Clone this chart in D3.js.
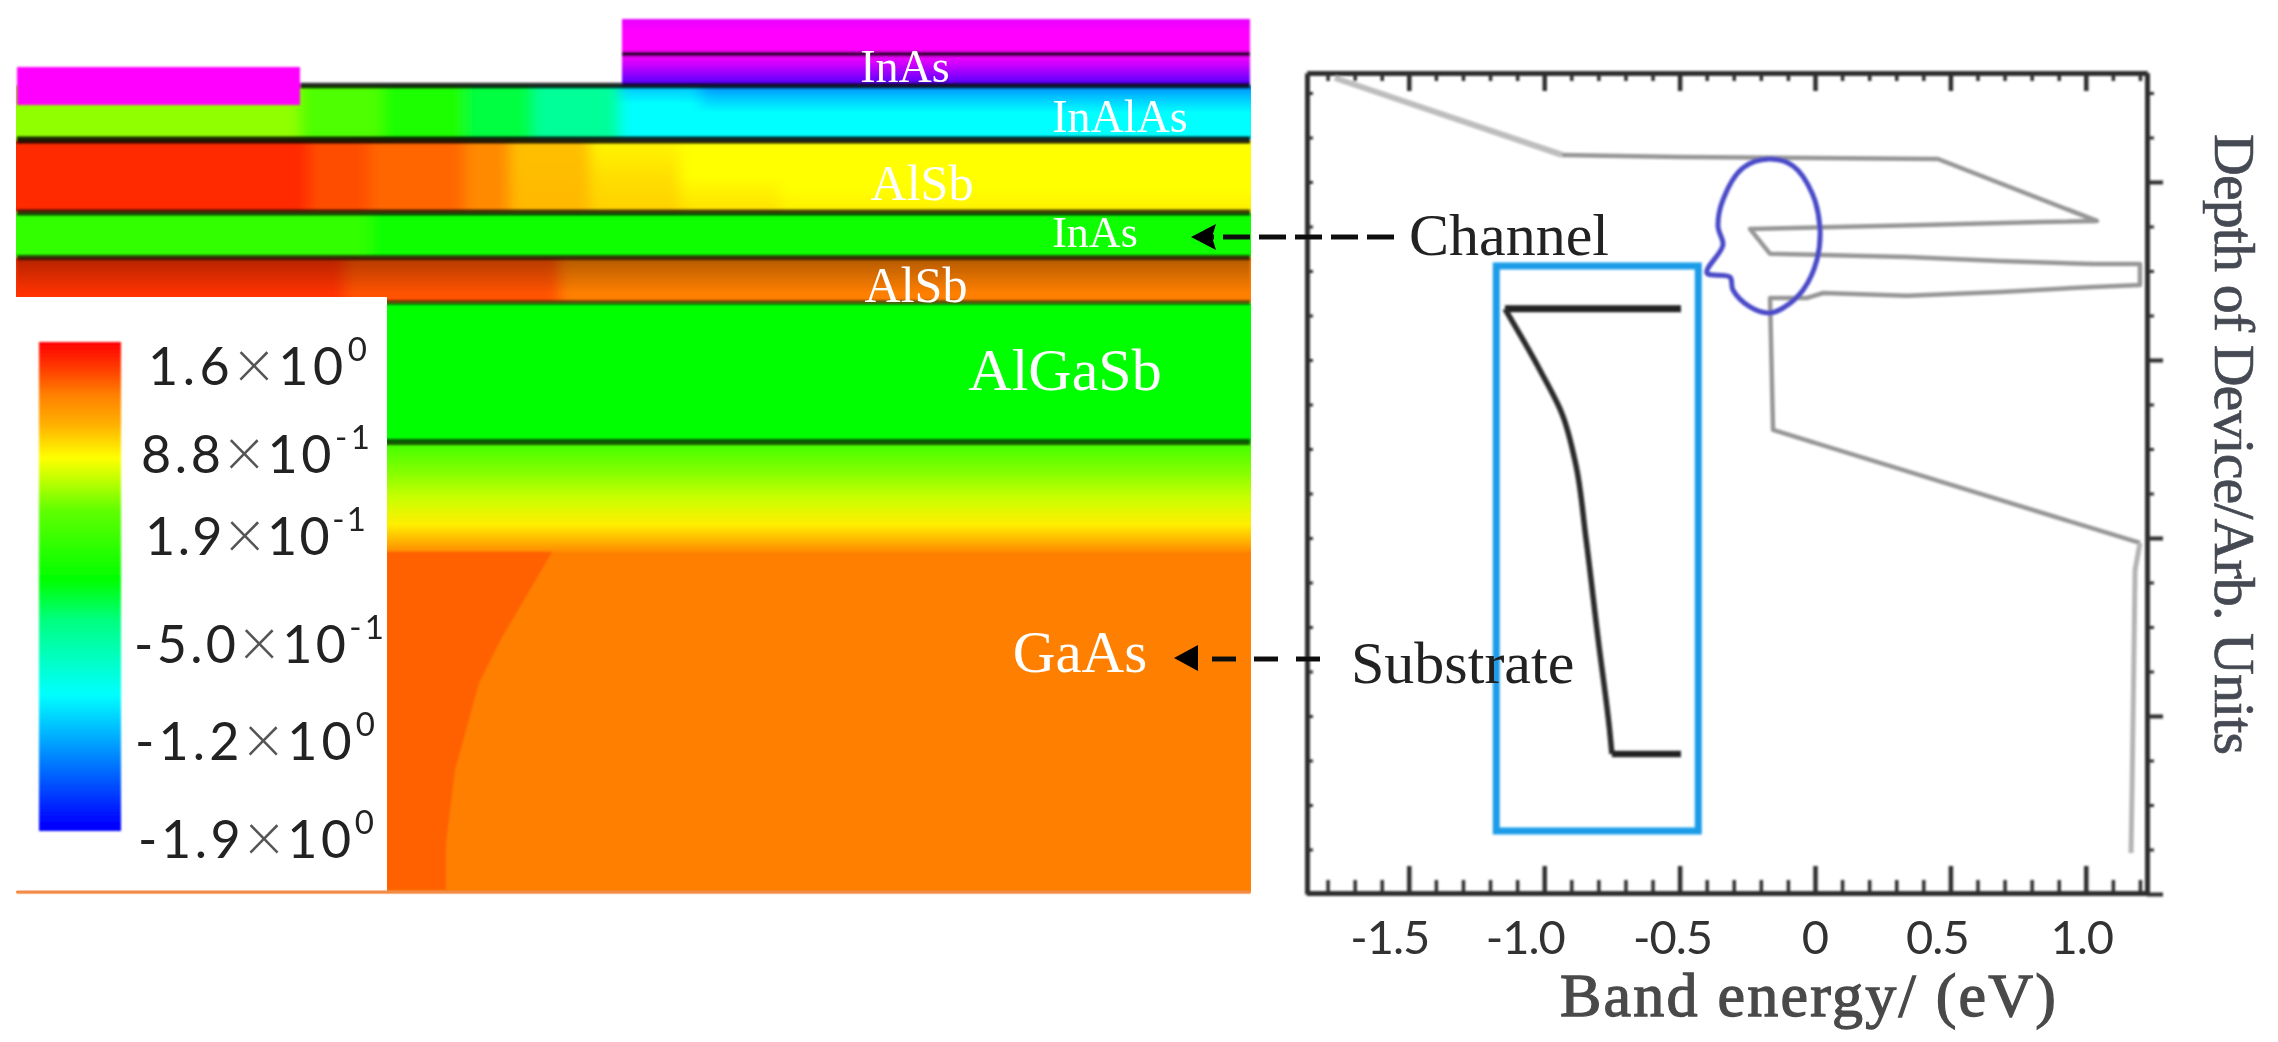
<!DOCTYPE html>
<html><head><meta charset="utf-8">
<script src="https://cdnjs.cloudflare.com/ajax/libs/d3/7.8.5/d3.min.js"></script>
<style>html,body{margin:0;padding:0;background:#fff}svg{display:block}</style>
</head><body><svg id="c" width="2278" height="1042"></svg>
<script>
// ---------- potential colour levels (legend) ----------
const levelColors = ["#ff0000","#ff4000","#ff8000","#ffb000","#ffff00","#c0ff00","#60ff00","#00ff00","#00ff80","#00ffff","#0080ff","#0000ff","#ff00ff"];
const legendLevels = [0,1,2,3,4,5,6,7,8,9,10,11];
const legendFractions = [0,0.057,0.108,0.169,0.237,0.282,0.344,0.487,0.569,0.722,0.855,0.988];
const legendCoeff = ["1.6","8.8","1.9","-5.0","-1.2","-1.9"];
const legendExp = ["0","-1","-1","-1","0","0"];

// ---------- device layers: depth bounds, lateral edges, potential levels ----------
const layerNames = ["Contact","InAs cap","InAlAs","AlSb barrier","InAs channel","AlSb spacer","AlGaSb","Buffer","GaAs"];
const layerTop    = [0,35,66.5,121,193.5,238.5,283.5,423,533];
const layerBottom = [35,66.5,121,193.5,238.5,283.5,423,533,874];
const layerEdges = [
  [605,1233],
  [605,1233],
  [0,283,365,449,516,603,683,1233],
  [0,293,353,448,493,573,663,763,1233],
  [0,353,1233],
  [0,328,543,1233],
  [0,1233],
  [0,1233],
  [0,1233]
];
const layerLevels = [
  [[11.9,12,12,12]],
  [[12,11.8,11.55,11.3]],
  [[5.5],[6.2],[6.7],[7.5],[8.2],[9.5,9,9,9],[9.9,9.4,9,9,9]],
  [[0.66],[1.2],[1.6],[2.2],[3.2,3.1],[3.9,3.6,3.4],[4,4,3.6],[4,4,4,3.8]],
  [[6.5],[6.9]],
  [[0.8],[1.3],[2]],
  [[7]],
  [[6.33,5.7,4.9,3.8,2.2]],
  [[2]]
];
const contactLeft = {lateral:[0,283], depth:[48,86], level:12};
const shadedLayer = 5;
const interfaceDepth = [35,66.5,121,193.5,238.5,283.5,423];
const interfaceStart = [605,283,0,0,0,0,0];
const interfaceOpacity = [0.8,0.82,0.85,0.72,0.68,0.58,0.65];
const interfaceWidth = [4.5,5.5,7,6,5,4.5,6];
const gaasCoreLateral = [0,535,484,462,438,429,429,0];
const gaasCoreDepth   = [533,533,620,664,751,824,871,871];
const layerLabels = ["InAs","InAlAs","AlSb","InAs","AlSb","AlGaSb","GaAs"];

// ---------- band diagram ----------
const xMajor = [-1.5,-1,-0.5,0,0.5,1];
const xLabels = ["-1.5","-1.0","-0.5","0","0.5","1.0"];
const xMinor = [-1.8,-1.7,-1.6,-1.4,-1.3,-1.2,-1.1,-0.9,-0.8,-0.7,-0.6,-0.4,-0.3,-0.2,-0.1,0.1,0.2,0.3,0.4,0.6,0.7,0.8,0.9,1.1,1.2];
const depthMajor = [1,2,3,4,5];
const depthMinor = [0.5,0.75,1.25,1.5,1.75,2.25,2.5,2.75,3.25,3.5,3.75,4.25,4.5,4.75];
const bandEnergy = [-1.773,-0.934,-0.499,0.454,1.041,0.831,0.399,-0.240,-0.166,0.340,0.683,1.027,1.200,1.200,1.027,0.683,0.340,0.030,-0.030,-0.166,-0.155,1.200,1.182,1.171,1.167];
const bandDepth  = [0.416,0.848,0.860,0.871,1.219,1.225,1.242,1.264,1.404,1.421,1.444,1.461,1.461,1.579,1.590,1.618,1.640,1.624,1.652,1.652,2.393,3.028,3.180,4.399,4.770];
const insetEnergy = [-0.495,-1.145,-1.016,-0.934,-0.883,-0.846,-0.801,-0.757,-0.750,-0.495];
const insetDepth  = [1.713,1.713,2.056,2.303,2.590,3.000,3.567,4.101,4.213,4.213];
const boxEnergy = [-1.177,-0.431];
const boxDepth  = [1.472,4.646];
const calloutEnergy = [-0.170,-0.081,-0.011,0.018,0.007,-0.044,-0.118,-0.170,-0.240,-0.303,-0.314,-0.399,-0.340,-0.358,-0.340,-0.266];
const calloutDepth  = [0.871,0.910,1.062,1.253,1.438,1.607,1.708,1.736,1.702,1.607,1.534,1.511,1.354,1.253,1.101,0.921];

// ---------- scales ----------
const svg = d3.select("#c");
const defs = svg.append("defs");
const color = d3.scaleLinear().domain(d3.range(levelColors.length)).range(levelColors);
const lat = d3.scaleLinear().domain([0,1233]).range([17,1250]);
const dep = d3.scaleLinear().domain([0,874]).range([19,893]);
const X = d3.scaleLinear().domain([-1.876,1.226]).range([1307,2147]);
const Y = d3.scaleLinear().domain([0.388,5]).range([73,894]);

function blur(id,dev){
  defs.append("filter").attr("id",id).attr("x","-3%").attr("y","-3%").attr("width","106%").attr("height","106%")
    .append("feGaussianBlur").attr("stdDeviation",dev);
}
blur("soft","1.3"); blur("cols","7 1.2"); blur("soft2","0.8"); blur("txt","0.6");
defs.append("clipPath").attr("id","panelClip").append("rect").attr("x",16).attr("y",0).attr("width",1235).attr("height",900);

// ---------- heat map ----------
const heatClip = svg.append("g").attr("clip-path","url(#panelClip)");
const heat = heatClip.append("g").attr("filter","url(#cols)");
const heatTop = svg.append("g").attr("filter","url(#soft)");
let gid = 0;
function fillFor(levels){
  if(levels.length===1) return color(levels[0]);
  const id="g"+(gid++);
  const g=defs.append("linearGradient").attr("id",id).attr("x1",0).attr("x2",0).attr("y1",0).attr("y2",1);
  levels.forEach((l,i)=>g.append("stop").attr("offset",i/(levels.length-1)).attr("stop-color",color(l)));
  return "url(#"+id+")";
}
layerNames.forEach((n,i)=>{
  const e=layerEdges[i];
  const target = i<2 ? heatTop : heat;
  layerLevels[i].forEach((lv,j)=>{
    // first/last columns run past the panel edge so the lateral blur stays inside the clip
    const x0 = i<2 ? lat(e[j]) : (j===0 ? lat(e[j])-30 : lat(e[j]));
    const x1 = i<2 ? lat(e[j+1]) : (j===layerLevels[i].length-1 ? lat(e[j+1])+30 : lat(e[j+1]));
    target.append("rect").attr("x",x0).attr("y",dep(layerTop[i]))
      .attr("width",x1-x0).attr("height",dep(layerBottom[i])-dep(layerTop[i]))
      .attr("fill",fillFor(lv));
  });
});
const shade=defs.append("linearGradient").attr("id","shade").attr("x1",0).attr("x2",0).attr("y1",0).attr("y2",1);
shade.append("stop").attr("offset",0).attr("stop-color","#000").attr("stop-opacity",0.3);
shade.append("stop").attr("offset",0.8).attr("stop-color","#000").attr("stop-opacity",0);
heatTop.append("rect").attr("x",lat(0)).attr("width",lat(1233)-lat(0)).attr("y",dep(layerTop[shadedLayer])).attr("height",dep(layerBottom[shadedLayer])-dep(layerTop[shadedLayer])).attr("fill","url(#shade)");
heatTop.append("path").attr("fill",color(1.5))
  .attr("d",d3.line().x((d,i)=>lat(gaasCoreLateral[i])).y((d,i)=>dep(gaasCoreDepth[i]))(gaasCoreLateral)+"Z");
heatTop.append("rect").attr("x",lat(contactLeft.lateral[0])).attr("y",dep(contactLeft.depth[0]))
  .attr("width",lat(contactLeft.lateral[1])-lat(contactLeft.lateral[0])).attr("height",dep(contactLeft.depth[1])-dep(contactLeft.depth[0]))
  .attr("fill",color(contactLeft.level));
interfaceDepth.forEach((d,i)=>{
  heatTop.append("line").attr("x1",lat(interfaceStart[i])).attr("x2",lat(1233)).attr("y1",dep(d)).attr("y2",dep(d))
    .attr("stroke","#000").attr("stroke-opacity",interfaceOpacity[i]).attr("stroke-width",interfaceWidth[i]);
});

// ---------- legend ----------
svg.append("rect").attr("x",14).attr("y",297).attr("width",373).attr("height",594).attr("fill","#fff");
svg.append("line").attr("x1",17).attr("x2",1250).attr("y1",892).attr("y2",892).attr("stroke","#f28a4a").attr("stroke-width",3);
const lg=defs.append("linearGradient").attr("id","legend").attr("x1",0).attr("x2",0).attr("y1",0).attr("y2",1);
legendLevels.forEach((l,i)=>lg.append("stop").attr("offset",legendFractions[i]).attr("stop-color",color(l)));
svg.append("rect").attr("x",39).attr("y",342).attr("width",82).attr("height",489).attr("fill","url(#legend)").attr("filter","url(#soft2)");
const legX=[148,141,145,134,135,138], legY=[385,473,555,663,760,858], legW=[219,229,221,250,240,236];
const legendText=svg.append("g").attr("filter","url(#txt)");
legendCoeff.forEach((c,i)=>{
  const t=legendText.append("text").attr("x",legX[i]).attr("y",legY[i]).attr("font-family","Lato, 'Open Sans', sans-serif").attr("font-size",52).attr("fill","#222").attr("textLength",legW[i]).attr("lengthAdjust","spacing");
  t.append("tspan").text(c);
  t.append("tspan").attr("font-size",68).attr("font-weight",300).attr("fill","#555").attr("dy",4).text("×");
  t.append("tspan").attr("dy",-4).text("10");
  t.append("tspan").attr("font-size",33).attr("dy",-24).text(legendExp[i]);
});

// ---------- layer labels ----------
const labX=[905,1120,922,1095,916,1065,1080], labY=[82,132,200,247,302,390,672], labS=[46,46,50,44,50,60,59];
const labelG=svg.append("g").attr("filter","url(#txt)");
layerLabels.forEach((s,i)=>{
  labelG.append("text").attr("x",labX[i]).attr("y",labY[i]).attr("text-anchor","middle").attr("font-family","'Liberation Serif', serif")
    .attr("font-size",labS[i]).attr("fill","#fff").text(s);
});

// ---------- band panel ----------
const panel=svg.append("g").attr("filter","url(#soft2)");
const axisInk="#2e2e2e";
function styleAxis(g,w){ g.selectAll("path").attr("stroke",axisInk).attr("stroke-width",5);
  g.selectAll("line").attr("stroke",axisInk).attr("stroke-width",w); }
const yb=Y.range()[1]-1;
const gb=panel.append("g").attr("transform",`translate(0,${yb})`);
gb.call(d3.axisBottom(X).tickValues(xMajor).tickSizeInner(-27).tickSizeOuter(0).tickFormat("")); styleAxis(gb,4.5);
const gbm=panel.append("g").attr("transform",`translate(0,${yb})`);
gbm.call(d3.axisBottom(X).tickValues(xMinor).tickSizeInner(-13).tickSizeOuter(0).tickFormat("")); styleAxis(gbm,3.5);
const gt=panel.append("g").attr("transform",`translate(0,73)`);
gt.call(d3.axisTop(X).tickValues(xMajor).tickSizeInner(-18).tickSizeOuter(0).tickFormat("")); styleAxis(gt,4.5);
const gtm=panel.append("g").attr("transform",`translate(0,73)`);
gtm.call(d3.axisTop(X).tickValues(xMinor).tickSizeInner(-8).tickSizeOuter(0).tickFormat("")); styleAxis(gtm,3.5);
const gr=panel.append("g").attr("transform",`translate(2147,0)`);
gr.call(d3.axisRight(Y).tickValues(depthMajor).tickSizeInner(16).tickSizeOuter(0).tickFormat("")); styleAxis(gr,4);
const grm=panel.append("g").attr("transform",`translate(2147,0)`);
grm.call(d3.axisRight(Y).tickValues(depthMinor).tickSizeInner(7).tickSizeOuter(0).tickFormat("")); styleAxis(grm,3);
const gl=panel.append("g").attr("transform",`translate(1307,0)`);
gl.call(d3.axisLeft(Y).tickValues(depthMajor.concat(depthMinor)).tickSizeInner(-6).tickSizeOuter(0).tickFormat("")); styleAxis(gl,3);

const curve=d3.line().x(d=>X(d[0])).y(d=>Y(d[1]));
const band=d3.zip(bandEnergy,bandDepth);
panel.append("path").attr("fill","none").attr("stroke","#bdbdbd").attr("stroke-width",6).attr("d",curve(band.slice(0,2)));
panel.append("path").attr("fill","none").attr("stroke","#969696").attr("stroke-width",4.5).attr("stroke-linejoin","round").attr("d",curve(band.slice(1,22)));
panel.append("path").attr("fill","none").attr("stroke","#b4b4b4").attr("stroke-width",5).attr("stroke-linejoin","round").attr("d",curve(band.slice(21)));
panel.append("rect").attr("x",X(boxEnergy[0])).attr("y",Y(boxDepth[0])).attr("width",X(boxEnergy[1])-X(boxEnergy[0])).attr("height",Y(boxDepth[1])-Y(boxDepth[0]))
  .attr("fill","none").attr("stroke","#1a9ce8").attr("stroke-width",7);
const inset=d3.zip(insetEnergy,insetDepth);
panel.append("path").attr("fill","none").attr("stroke","#222").attr("stroke-width",7).attr("d",curve(inset.slice(0,2)));
panel.append("path").attr("fill","none").attr("stroke","#2a2a2a").attr("stroke-width",5.5)
  .attr("d",d3.line().x(d=>X(d[0])).y(d=>Y(d[1])).curve(d3.curveMonotoneY)(inset.slice(1,9)));
panel.append("path").attr("fill","none").attr("stroke","#222").attr("stroke-width",6.5).attr("d",curve(inset.slice(8)));
panel.append("path").attr("fill","none").attr("stroke","#4a4ac8").attr("stroke-width",5)
  .attr("d",d3.line().x(d=>X(d[0])).y(d=>Y(d[1])).curve(d3.curveCatmullRomClosed.alpha(0.5))(d3.zip(calloutEnergy,calloutDepth)));

const textG=svg.append("g").attr("filter","url(#txt)");
xMajor.forEach((v,i)=>{
  const nudge=[-19,-19,-7,0,-13,-4][i];
  textG.append("text").attr("x",X(v)+nudge).attr("y",954).attr("text-anchor","middle").attr("font-family","Lato, sans-serif").attr("font-size",47).attr("letter-spacing",-1).attr("fill","#333").text(xLabels[i]);
});
textG.append("text").attr("x",1560).attr("y",1016).attr("font-family","'Liberation Serif', serif").attr("font-size",62).attr("fill","#4a4a4a").attr("stroke","#4a4a4a").attr("stroke-width",1.3).attr("textLength",496).attr("lengthAdjust","spacing").text("Band energy/ (eV)");
textG.append("text").attr("transform","translate(2215,134) rotate(90)").attr("font-family","'Liberation Serif', serif").attr("font-size",58).attr("fill","#454a52").attr("stroke","#454a52").attr("stroke-width",0.7).attr("textLength",621).attr("lengthAdjust","spacing").text("Depth of Device/Arb. Units");

// ---------- annotations ----------
const anno=svg.append("g").attr("filter","url(#txt)");
anno.append("text").attr("x",1409).attr("y",255).attr("font-family","'Liberation Serif', serif").attr("font-size",60).attr("fill","#222").text("Channel");
anno.append("text").attr("x",1351).attr("y",683).attr("font-family","'Liberation Serif', serif").attr("font-size",60).attr("fill","#222").text("Substrate");
anno.append("line").attr("x1",1394).attr("x2",1212).attr("y1",237).attr("y2",237).attr("stroke","#111").attr("stroke-width",5).attr("stroke-dasharray","27 9");
anno.append("path").attr("d","M1191,237L1216,224L1212,237L1216,250Z").attr("fill","#000");
anno.append("line").attr("x1",1320).attr("x2",1210).attr("y1",659).attr("y2",659).attr("stroke","#111").attr("stroke-width",5).attr("stroke-dasharray","24 18");
anno.append("path").attr("d","M1174,658L1198,645L1198,671Z").attr("fill","#000");
</script></body></html>
